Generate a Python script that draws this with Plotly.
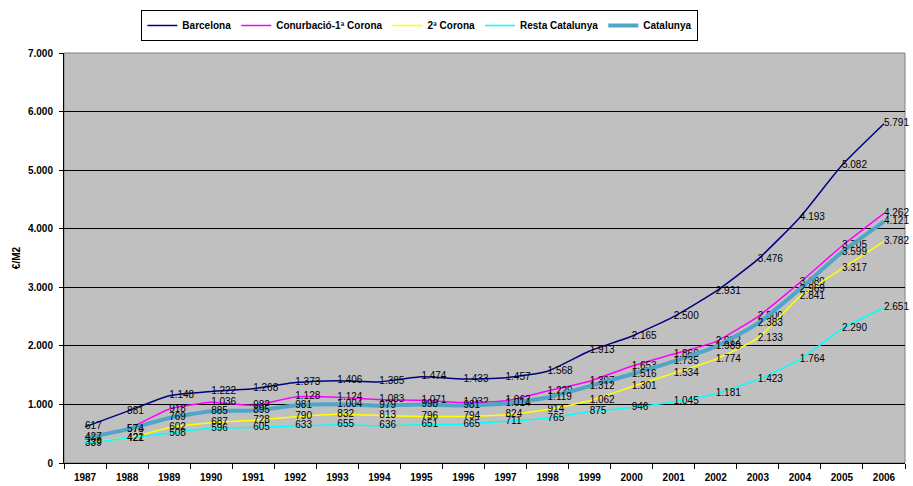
import plotly.graph_objects as go

years = [str(y) for y in range(1987, 2007)]

barcelona = [617, 881, 1148, 1222, 1268, 1373, 1406, 1385, 1474, 1433,
             1457, 1568, 1913, 2165, 2500, 2931, 3476, 4193, 5082, 5791]
conurbacio = [407, 578, 918, 1036, 982, 1128, 1124, 1083, 1071, 1032,
              1063, 1229, 1397, 1653, 1860, 2072, 2500, 3080, 3705, 4262]
corona2 = [359, 422, 602, 687, 728, 790, 832, 813, 796, 794,
           824, 914, 1062, 1301, 1534, 1774, 2133, 2841, 3317, 3782]
resta = [339, 421, 508, 596, 605, 633, 655, 636, 651, 665,
         711, 765, 875, 946, 1045, 1181, 1423, 1764, 2290, 2651]
catalunya = [427, 574, 769, 885, 895, 981, 1004, 979, 998, 981,
             1014, 1119, 1312, 1516, 1735, 1989, 2383, 2969, 3599, 4121]

series = [
    ("Barcelona", barcelona, "#000080", 1.5),
    ("Conurbació-1ª Corona", conurbacio, "#FF00FF", 1.5),
    ("2ª Corona", corona2, "#FFFF00", 1.5),
    ("Resta Catalunya", resta, "#00FFFF", 1.5),
    ("Catalunya", catalunya, "#4FA6C9", 4),
]

FONT = "Arial, Liberation Sans, sans-serif"

fig = go.Figure()
for name, vals, color, width in series:
    fig.add_trace(go.Scatter(
        x=years, y=vals, name=name, mode="lines+text",
        line=dict(color=color, width=width, shape="spline", smoothing=0.5),
        text=vals, texttemplate="%{y:,d}", textposition="middle right",
        textfont=dict(family=FONT, size=10, color="black"),
        cliponaxis=False,
    ))

fig.update_layout(
    width=913, height=486,
    margin=dict(l=64, r=8, t=53, b=23, autoexpand=False),
    paper_bgcolor="white",
    plot_bgcolor="#C0C0C0",
    separators=",.",
    font=dict(family=FONT, size=10, color="black"),
    showlegend=True,
    legend=dict(
        orientation="h", x=0.092, y=1.105, xanchor="left", yanchor="top",
        bgcolor="white", bordercolor="black", borderwidth=1,
        font=dict(family=FONT, size=10, color="black", weight="bold"),
        itemwidth=30, tracegroupgap=0,
    ),
    xaxis=dict(
        type="category", tickson="boundaries", ticks="outside", ticklen=5,
        tickcolor="black", showline=True, linecolor="black", linewidth=1,
        showgrid=False, tickfont=dict(family=FONT, size=10, color="black", weight="bold"),
        ticklabelstandoff=5, automargin=False,
        range=[-0.5, 19.5], fixedrange=True,
    ),
    yaxis=dict(
        range=[0, 7000], dtick=1000, tickformat=",d",
        ticks="outside", ticklen=4, tickcolor="black",
        showline=True, linecolor="black", linewidth=1,
        showgrid=True, gridcolor="black", gridwidth=1, zeroline=False,
        tickfont=dict(family=FONT, size=10, color="black", weight="bold"),
        ticklabelstandoff=4, automargin=False,
        title=dict(text="€/M2", font=dict(family=FONT, size=10, color="black", weight="bold"), standoff=5),
    ),
    shapes=[dict(type="rect", xref="paper", yref="paper", x0=0, x1=1, y0=0, y1=1,
                 line=dict(color="#808080", width=1), layer="below")],
)

fig.write_html("out.html")
